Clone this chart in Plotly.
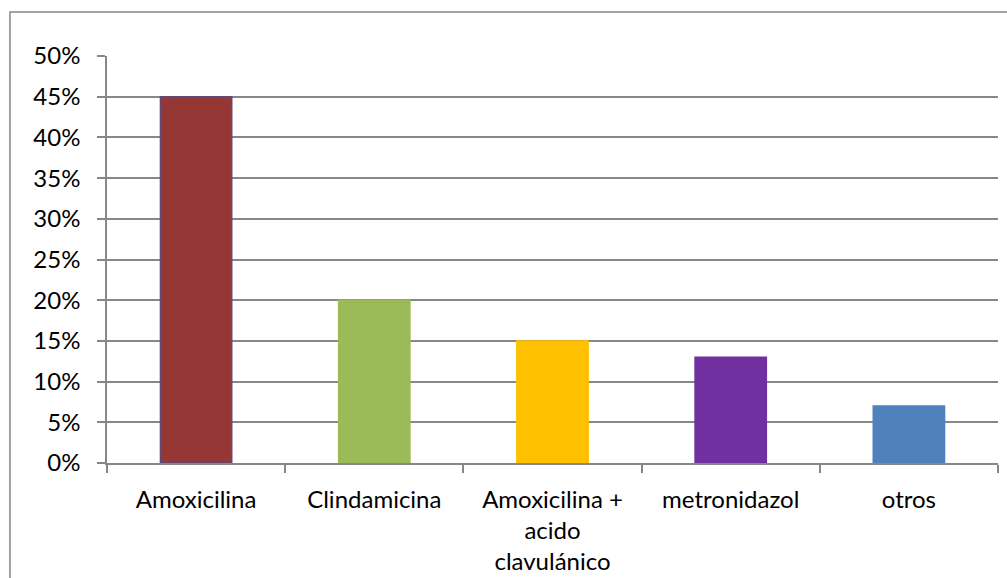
import plotly.graph_objects as go

categories = ["Amoxicilina", "Clindamicina", "Amoxicilina +<br>acido<br>clavulánico", "metronidazol", "otros"]
shares = [0.45, 0.20, 0.15, 0.13, 0.07]
bar_colors = ["#953735", "#9BBB59", "#FFC000", "#7030A0", "#4F81BD"]
outline_colors = ["#604A7B", "#9BBB59", "#FFC000", "#7030A0", "#4F81BD"]
y_ticks = [i * 0.05 for i in range(11)]
y_tick_labels = [f"{i * 5}%" for i in range(11)]

GRAY = "#878787"
FONT = "Lato"
SIZE = 24

fig = go.Figure(
    go.Bar(
        x=categories,
        y=shares,
        width=0.4,
        marker=dict(color=bar_colors, line=dict(color=outline_colors, width=1.5)),
    )
)

fig.update_layout(
    width=1007,
    height=578,
    margin=dict(l=107, r=9, t=56, b=115),
    paper_bgcolor="white",
    plot_bgcolor="white",
    showlegend=False,
    font=dict(family=FONT, size=SIZE, color="#000000"),
    xaxis=dict(
        automargin=False,
        showline=True,
        linecolor=GRAY,
        linewidth=1.5,
        ticks="outside",
        tickson="boundaries",
        ticklen=8,
        tickwidth=1.5,
        tickcolor=GRAY,
        showgrid=False,
        ticklabelstandoff=14,
        tickfont=dict(family=FONT, size=SIZE),
    ),
    yaxis=dict(
        automargin=False,
        range=[0, 0.5],
        tickvals=y_ticks,
        ticktext=y_tick_labels,
        showline=True,
        linecolor=GRAY,
        linewidth=1.5,
        ticks="outside",
        ticklen=8,
        tickwidth=1.5,
        tickcolor=GRAY,
        showgrid=True,
        gridcolor=GRAY,
        gridwidth=1.5,
        zeroline=False,
        ticklabelstandoff=12,
        tickfont=dict(family=FONT, size=SIZE),
    ),
    shapes=[
        dict(
            type="rect",
            xref="paper",
            yref="paper",
            x0=-0.1089,
            x1=1.05,
            y0=-0.4,
            y1=1.108,
            line=dict(color=GRAY, width=1.5),
            fillcolor="rgba(0,0,0,0)",
            layer="below",
        )
    ],
)

fig.write_html("out.html")
